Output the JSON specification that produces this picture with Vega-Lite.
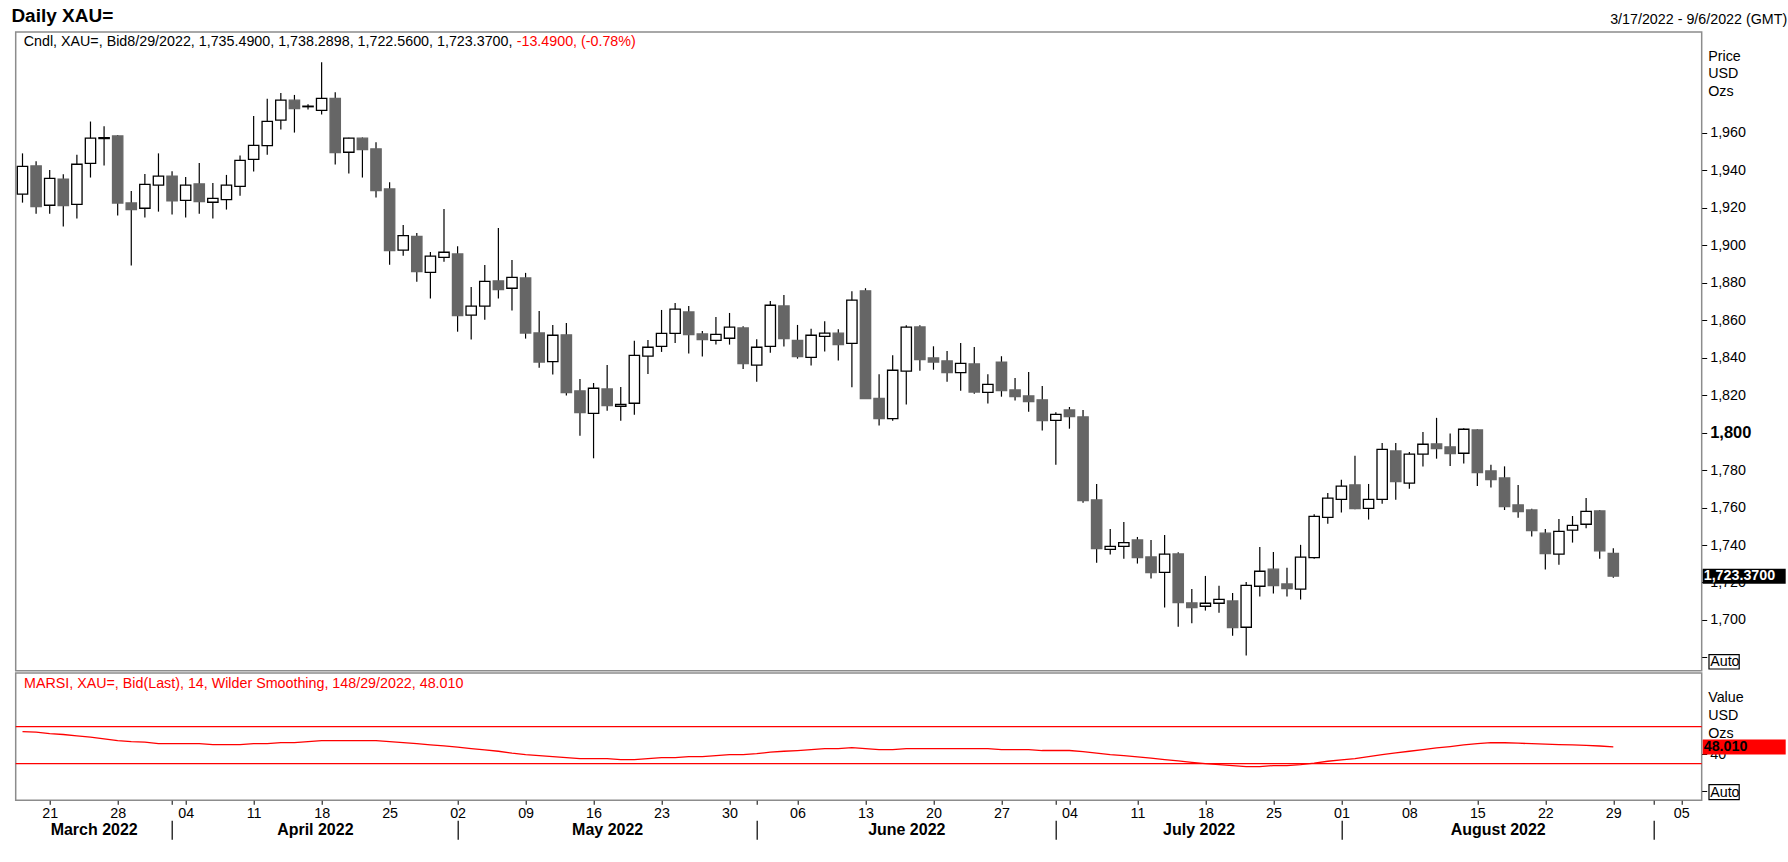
{
  "$schema": "https://vega.github.io/schema/vega-lite/v6.json",
  "background": "white",
  "padding": {"left": 10.7, "top": 6, "right": 0, "bottom": 0},
  "title": {"text": "Daily XAU=", "anchor": "start", "frame": "group", "fontSize": 19, "fontWeight": "bold", "color": "black", "dx": -4.3, "offset": -14},
  "spacing": 0,
  "config": {
    "font": "Liberation Sans",
    "view": {"stroke": "#8c8c8c", "strokeWidth": 1.5},
    "title": {"font": "Liberation Sans", "color": "black"},
    "text": {"font": "Liberation Sans"},
    "axis": {"labelFont": "Liberation Sans", "titleFont": "Liberation Sans", "labelColor": "black", "titleColor": "black", "tickColor": "black", "grid": false, "domain": false}
  },
  "datasets": {
    "candles": [
      {"d": "2022-03-17", "o": 1927.3, "h": 1949.1, "l": 1922.8, "c": 1942.2},
      {"d": "2022-03-18", "o": 1942.4, "h": 1944.9, "l": 1916.9, "c": 1920.7},
      {"d": "2022-03-21", "o": 1921.4, "h": 1940.2, "l": 1916.9, "c": 1935.8},
      {"d": "2022-03-22", "o": 1935.4, "h": 1937.9, "l": 1910.0, "c": 1921.2},
      {"d": "2022-03-23", "o": 1921.9, "h": 1948.3, "l": 1914.3, "c": 1943.3},
      {"d": "2022-03-24", "o": 1943.8, "h": 1966.1, "l": 1936.2, "c": 1957.2},
      {"d": "2022-03-25", "o": 1957.0, "h": 1963.6, "l": 1942.6, "c": 1957.5},
      {"d": "2022-03-28", "o": 1958.4, "h": 1958.9, "l": 1915.9, "c": 1922.6},
      {"d": "2022-03-29", "o": 1922.6, "h": 1929.0, "l": 1889.2, "c": 1919.1},
      {"d": "2022-03-30", "o": 1919.8, "h": 1938.1, "l": 1914.8, "c": 1932.6},
      {"d": "2022-03-31", "o": 1932.1, "h": 1949.1, "l": 1918.0, "c": 1937.0},
      {"d": "2022-04-01", "o": 1937.0, "h": 1939.5, "l": 1916.4, "c": 1923.7},
      {"d": "2022-04-04", "o": 1924.0, "h": 1936.5, "l": 1914.8, "c": 1932.1},
      {"d": "2022-04-05", "o": 1932.8, "h": 1944.0, "l": 1916.9, "c": 1923.3},
      {"d": "2022-04-06", "o": 1923.0, "h": 1933.3, "l": 1914.3, "c": 1925.1},
      {"d": "2022-04-07", "o": 1924.4, "h": 1937.6, "l": 1919.1, "c": 1932.1},
      {"d": "2022-04-08", "o": 1931.5, "h": 1947.9, "l": 1926.5, "c": 1945.4},
      {"d": "2022-04-11", "o": 1945.9, "h": 1969.1, "l": 1939.4, "c": 1953.4},
      {"d": "2022-04-12", "o": 1953.2, "h": 1978.2, "l": 1948.4, "c": 1966.2},
      {"d": "2022-04-13", "o": 1966.8, "h": 1981.4, "l": 1961.8, "c": 1977.5},
      {"d": "2022-04-14", "o": 1977.5, "h": 1980.3, "l": 1960.2, "c": 1973.0},
      {"d": "2022-04-15", "o": 1974.0, "h": 1975.3, "l": 1972.5, "c": 1974.3},
      {"d": "2022-04-18", "o": 1972.1, "h": 1997.7, "l": 1969.8, "c": 1978.5},
      {"d": "2022-04-19", "o": 1978.5, "h": 1981.7, "l": 1943.1, "c": 1949.5},
      {"d": "2022-04-20", "o": 1949.7, "h": 1957.5, "l": 1938.3, "c": 1957.2},
      {"d": "2022-04-21", "o": 1957.2, "h": 1957.6, "l": 1936.2, "c": 1951.1},
      {"d": "2022-04-22", "o": 1951.5, "h": 1955.0, "l": 1925.5, "c": 1929.2},
      {"d": "2022-04-25", "o": 1930.1, "h": 1933.7, "l": 1889.7, "c": 1897.2},
      {"d": "2022-04-26", "o": 1897.4, "h": 1910.9, "l": 1894.5, "c": 1905.2},
      {"d": "2022-04-27", "o": 1904.8, "h": 1906.6, "l": 1880.6, "c": 1886.0},
      {"d": "2022-04-28", "o": 1885.6, "h": 1896.5, "l": 1871.6, "c": 1894.2},
      {"d": "2022-04-29", "o": 1893.6, "h": 1919.4, "l": 1891.3, "c": 1896.3},
      {"d": "2022-05-02", "o": 1895.4, "h": 1899.5, "l": 1853.9, "c": 1862.5},
      {"d": "2022-05-03", "o": 1862.7, "h": 1877.8, "l": 1849.7, "c": 1867.5},
      {"d": "2022-05-04", "o": 1867.5, "h": 1889.5, "l": 1860.3, "c": 1880.8},
      {"d": "2022-05-05", "o": 1881.0, "h": 1909.3, "l": 1871.6, "c": 1876.4},
      {"d": "2022-05-06", "o": 1877.1, "h": 1892.2, "l": 1865.2, "c": 1882.9},
      {"d": "2022-05-09", "o": 1882.6, "h": 1885.3, "l": 1850.2, "c": 1853.2},
      {"d": "2022-05-10", "o": 1853.2, "h": 1865.0, "l": 1834.7, "c": 1837.7},
      {"d": "2022-05-11", "o": 1837.9, "h": 1857.5, "l": 1831.0, "c": 1852.0},
      {"d": "2022-05-12", "o": 1852.2, "h": 1858.6, "l": 1819.8, "c": 1821.4},
      {"d": "2022-05-13", "o": 1822.3, "h": 1828.7, "l": 1798.4, "c": 1810.7},
      {"d": "2022-05-16", "o": 1810.3, "h": 1826.5, "l": 1786.3, "c": 1823.7},
      {"d": "2022-05-17", "o": 1823.3, "h": 1836.1, "l": 1811.7, "c": 1814.4},
      {"d": "2022-05-18", "o": 1814.1, "h": 1824.4, "l": 1806.4, "c": 1815.1},
      {"d": "2022-05-19", "o": 1815.7, "h": 1849.0, "l": 1809.6, "c": 1841.3},
      {"d": "2022-05-20", "o": 1840.8, "h": 1849.5, "l": 1831.3, "c": 1845.6},
      {"d": "2022-05-23", "o": 1846.1, "h": 1865.5, "l": 1843.1, "c": 1853.0},
      {"d": "2022-05-24", "o": 1853.0, "h": 1869.2, "l": 1847.9, "c": 1865.9},
      {"d": "2022-05-25", "o": 1864.4, "h": 1867.6, "l": 1842.2, "c": 1852.3},
      {"d": "2022-05-26", "o": 1852.7, "h": 1854.3, "l": 1840.6, "c": 1849.7},
      {"d": "2022-05-27", "o": 1849.3, "h": 1861.8, "l": 1847.0, "c": 1852.5},
      {"d": "2022-05-30", "o": 1850.4, "h": 1863.9, "l": 1847.0, "c": 1856.3},
      {"d": "2022-05-31", "o": 1855.9, "h": 1856.8, "l": 1834.0, "c": 1836.9},
      {"d": "2022-06-01", "o": 1836.0, "h": 1849.9, "l": 1827.2, "c": 1845.6},
      {"d": "2022-06-02", "o": 1846.1, "h": 1870.3, "l": 1842.7, "c": 1868.0},
      {"d": "2022-06-03", "o": 1867.6, "h": 1873.5, "l": 1846.0, "c": 1850.2},
      {"d": "2022-06-06", "o": 1849.3, "h": 1857.5, "l": 1839.5, "c": 1840.6},
      {"d": "2022-06-07", "o": 1840.2, "h": 1855.4, "l": 1835.8, "c": 1852.0},
      {"d": "2022-06-08", "o": 1851.4, "h": 1859.5, "l": 1843.3, "c": 1853.1},
      {"d": "2022-06-09", "o": 1853.1, "h": 1855.2, "l": 1838.5, "c": 1847.0},
      {"d": "2022-06-10", "o": 1847.7, "h": 1875.5, "l": 1824.2, "c": 1870.7},
      {"d": "2022-06-13", "o": 1875.7, "h": 1877.1, "l": 1818.0, "c": 1818.2},
      {"d": "2022-06-14", "o": 1818.3, "h": 1831.2, "l": 1803.8, "c": 1807.5},
      {"d": "2022-06-15", "o": 1807.5, "h": 1841.3, "l": 1806.4, "c": 1833.3},
      {"d": "2022-06-16", "o": 1832.8, "h": 1857.3, "l": 1815.0, "c": 1856.3},
      {"d": "2022-06-17", "o": 1856.4, "h": 1857.3, "l": 1833.1, "c": 1839.0},
      {"d": "2022-06-20", "o": 1839.9, "h": 1846.1, "l": 1833.6, "c": 1837.7},
      {"d": "2022-06-21", "o": 1838.3, "h": 1843.6, "l": 1827.2, "c": 1832.0},
      {"d": "2022-06-22", "o": 1832.0, "h": 1847.9, "l": 1822.4, "c": 1837.0},
      {"d": "2022-06-23", "o": 1836.7, "h": 1845.7, "l": 1820.8, "c": 1821.7},
      {"d": "2022-06-24", "o": 1821.5, "h": 1831.2, "l": 1815.5, "c": 1825.8},
      {"d": "2022-06-27", "o": 1837.7, "h": 1840.8, "l": 1819.2, "c": 1822.4},
      {"d": "2022-06-28", "o": 1822.8, "h": 1829.2, "l": 1817.1, "c": 1819.2},
      {"d": "2022-06-29", "o": 1819.6, "h": 1832.4, "l": 1811.2, "c": 1816.6},
      {"d": "2022-06-30", "o": 1817.5, "h": 1824.9, "l": 1801.1, "c": 1806.4},
      {"d": "2022-07-01", "o": 1806.6, "h": 1810.9, "l": 1782.9, "c": 1809.8},
      {"d": "2022-07-04", "o": 1812.1, "h": 1813.7, "l": 1802.1, "c": 1808.6},
      {"d": "2022-07-05", "o": 1808.4, "h": 1812.1, "l": 1762.6, "c": 1763.7},
      {"d": "2022-07-06", "o": 1764.1, "h": 1772.6, "l": 1730.6, "c": 1738.1},
      {"d": "2022-07-07", "o": 1737.7, "h": 1748.6, "l": 1734.9, "c": 1739.3},
      {"d": "2022-07-08", "o": 1739.3, "h": 1752.3, "l": 1732.7, "c": 1741.3},
      {"d": "2022-07-11", "o": 1742.7, "h": 1744.3, "l": 1730.1, "c": 1733.3},
      {"d": "2022-07-12", "o": 1733.6, "h": 1742.7, "l": 1722.1, "c": 1725.3},
      {"d": "2022-07-13", "o": 1725.4, "h": 1745.4, "l": 1706.6, "c": 1735.1},
      {"d": "2022-07-14", "o": 1735.2, "h": 1736.1, "l": 1696.4, "c": 1709.3},
      {"d": "2022-07-15", "o": 1709.1, "h": 1716.5, "l": 1698.2, "c": 1706.6},
      {"d": "2022-07-18", "o": 1707.3, "h": 1723.5, "l": 1705.0, "c": 1708.9},
      {"d": "2022-07-19", "o": 1708.9, "h": 1718.2, "l": 1703.9, "c": 1711.0},
      {"d": "2022-07-20", "o": 1710.1, "h": 1714.4, "l": 1691.6, "c": 1695.9},
      {"d": "2022-07-21", "o": 1696.1, "h": 1720.3, "l": 1681.0, "c": 1718.5},
      {"d": "2022-07-22", "o": 1718.0, "h": 1739.0, "l": 1712.5, "c": 1726.0},
      {"d": "2022-07-25", "o": 1727.1, "h": 1736.3, "l": 1714.1, "c": 1718.4},
      {"d": "2022-07-26", "o": 1719.2, "h": 1727.8, "l": 1712.5, "c": 1716.7},
      {"d": "2022-07-27", "o": 1716.4, "h": 1740.1, "l": 1710.9, "c": 1733.5},
      {"d": "2022-07-28", "o": 1733.3, "h": 1756.4, "l": 1732.7, "c": 1755.3},
      {"d": "2022-07-29", "o": 1754.8, "h": 1767.8, "l": 1751.4, "c": 1765.0},
      {"d": "2022-08-01", "o": 1764.4, "h": 1774.8, "l": 1757.3, "c": 1771.4},
      {"d": "2022-08-02", "o": 1772.1, "h": 1787.6, "l": 1759.1, "c": 1759.4},
      {"d": "2022-08-03", "o": 1759.6, "h": 1772.6, "l": 1753.6, "c": 1764.4},
      {"d": "2022-08-04", "o": 1764.4, "h": 1794.5, "l": 1762.1, "c": 1791.1},
      {"d": "2022-08-05", "o": 1790.2, "h": 1794.5, "l": 1764.2, "c": 1773.9},
      {"d": "2022-08-08", "o": 1773.0, "h": 1789.7, "l": 1770.1, "c": 1788.5},
      {"d": "2022-08-09", "o": 1788.5, "h": 1800.4, "l": 1781.9, "c": 1793.8},
      {"d": "2022-08-10", "o": 1794.0, "h": 1807.9, "l": 1786.1, "c": 1791.5},
      {"d": "2022-08-11", "o": 1792.4, "h": 1799.5, "l": 1782.2, "c": 1788.8},
      {"d": "2022-08-12", "o": 1789.0, "h": 1802.3, "l": 1783.5, "c": 1801.8},
      {"d": "2022-08-15", "o": 1801.4, "h": 1801.8, "l": 1771.5, "c": 1778.7},
      {"d": "2022-08-16", "o": 1779.6, "h": 1782.8, "l": 1770.7, "c": 1774.9},
      {"d": "2022-08-17", "o": 1775.8, "h": 1782.0, "l": 1758.7, "c": 1760.5},
      {"d": "2022-08-18", "o": 1761.4, "h": 1772.1, "l": 1754.6, "c": 1757.8},
      {"d": "2022-08-19", "o": 1758.7, "h": 1759.3, "l": 1744.5, "c": 1747.7},
      {"d": "2022-08-22", "o": 1746.3, "h": 1748.6, "l": 1726.9, "c": 1735.4},
      {"d": "2022-08-23", "o": 1735.1, "h": 1753.9, "l": 1729.5, "c": 1747.3},
      {"d": "2022-08-24", "o": 1747.9, "h": 1755.5, "l": 1741.3, "c": 1750.5},
      {"d": "2022-08-25", "o": 1751.1, "h": 1765.1, "l": 1748.9, "c": 1758.0},
      {"d": "2022-08-26", "o": 1758.2, "h": 1758.7, "l": 1732.7, "c": 1736.9},
      {"d": "2022-08-29", "o": 1735.49, "h": 1738.2898, "l": 1722.56, "c": 1723.37}
    ],
    "rsi": [
      {"d": "2022-03-17", "r": 64.6}, {"d": "2022-03-18", "r": 63.9}, {"d": "2022-03-21", "r": 62.4}, {"d": "2022-03-22", "r": 61.4},
      {"d": "2022-03-23", "r": 59.9}, {"d": "2022-03-24", "r": 58.5}, {"d": "2022-03-25", "r": 56.7}, {"d": "2022-03-28", "r": 54.9},
      {"d": "2022-03-29", "r": 53.8}, {"d": "2022-03-30", "r": 53.1}, {"d": "2022-03-31", "r": 51.6}, {"d": "2022-04-01", "r": 51.6},
      {"d": "2022-04-04", "r": 51.6}, {"d": "2022-04-05", "r": 51.6}, {"d": "2022-04-06", "r": 50.5}, {"d": "2022-04-07", "r": 50.5},
      {"d": "2022-04-08", "r": 50.5}, {"d": "2022-04-11", "r": 51.6}, {"d": "2022-04-12", "r": 51.6}, {"d": "2022-04-13", "r": 52.7},
      {"d": "2022-04-14", "r": 52.7}, {"d": "2022-04-15", "r": 53.8}, {"d": "2022-04-18", "r": 54.9}, {"d": "2022-04-19", "r": 54.9},
      {"d": "2022-04-20", "r": 54.9}, {"d": "2022-04-21", "r": 54.9}, {"d": "2022-04-22", "r": 54.9}, {"d": "2022-04-25", "r": 53.8},
      {"d": "2022-04-26", "r": 52.7}, {"d": "2022-04-27", "r": 51.6}, {"d": "2022-04-28", "r": 50.2}, {"d": "2022-04-29", "r": 49.1},
      {"d": "2022-05-02", "r": 47.7}, {"d": "2022-05-03", "r": 46.2}, {"d": "2022-05-04", "r": 44.8}, {"d": "2022-05-05", "r": 43.3},
      {"d": "2022-05-06", "r": 41.2}, {"d": "2022-05-09", "r": 39.7}, {"d": "2022-05-10", "r": 38.6}, {"d": "2022-05-11", "r": 37.6},
      {"d": "2022-05-12", "r": 36.5}, {"d": "2022-05-13", "r": 35.4}, {"d": "2022-05-16", "r": 35.4}, {"d": "2022-05-17", "r": 35.4},
      {"d": "2022-05-18", "r": 34.3}, {"d": "2022-05-19", "r": 34.3}, {"d": "2022-05-20", "r": 35.4}, {"d": "2022-05-23", "r": 36.5},
      {"d": "2022-05-24", "r": 36.5}, {"d": "2022-05-25", "r": 37.6}, {"d": "2022-05-26", "r": 37.6}, {"d": "2022-05-27", "r": 38.6},
      {"d": "2022-05-30", "r": 39.7}, {"d": "2022-05-31", "r": 39.7}, {"d": "2022-06-01", "r": 40.8}, {"d": "2022-06-02", "r": 42.3},
      {"d": "2022-06-03", "r": 43.3}, {"d": "2022-06-06", "r": 44.1}, {"d": "2022-06-07", "r": 45.1}, {"d": "2022-06-08", "r": 46.2},
      {"d": "2022-06-09", "r": 46.2}, {"d": "2022-06-10", "r": 47.3}, {"d": "2022-06-13", "r": 46.2}, {"d": "2022-06-14", "r": 45.1},
      {"d": "2022-06-15", "r": 45.1}, {"d": "2022-06-16", "r": 46.2}, {"d": "2022-06-17", "r": 46.2}, {"d": "2022-06-20", "r": 46.2},
      {"d": "2022-06-21", "r": 46.2}, {"d": "2022-06-22", "r": 46.2}, {"d": "2022-06-23", "r": 46.2}, {"d": "2022-06-24", "r": 46.2},
      {"d": "2022-06-27", "r": 45.1}, {"d": "2022-06-28", "r": 45.1}, {"d": "2022-06-29", "r": 45.1}, {"d": "2022-06-30", "r": 44.1},
      {"d": "2022-07-01", "r": 44.1}, {"d": "2022-07-04", "r": 44.1}, {"d": "2022-07-05", "r": 43.0}, {"d": "2022-07-06", "r": 41.2},
      {"d": "2022-07-07", "r": 39.7}, {"d": "2022-07-08", "r": 38.6}, {"d": "2022-07-11", "r": 37.2}, {"d": "2022-07-12", "r": 35.8},
      {"d": "2022-07-13", "r": 34.3}, {"d": "2022-07-14", "r": 32.9}, {"d": "2022-07-15", "r": 31.4}, {"d": "2022-07-18", "r": 30.0},
      {"d": "2022-07-19", "r": 28.9}, {"d": "2022-07-20", "r": 27.8}, {"d": "2022-07-21", "r": 26.8}, {"d": "2022-07-22", "r": 26.8},
      {"d": "2022-07-25", "r": 27.8}, {"d": "2022-07-26", "r": 27.8}, {"d": "2022-07-27", "r": 28.9}, {"d": "2022-07-28", "r": 30.4},
      {"d": "2022-07-29", "r": 32.5}, {"d": "2022-08-01", "r": 34.0}, {"d": "2022-08-02", "r": 35.4}, {"d": "2022-08-03", "r": 37.6},
      {"d": "2022-08-04", "r": 39.7}, {"d": "2022-08-05", "r": 41.5}, {"d": "2022-08-08", "r": 43.3}, {"d": "2022-08-09", "r": 45.1},
      {"d": "2022-08-10", "r": 46.9}, {"d": "2022-08-11", "r": 48.4}, {"d": "2022-08-12", "r": 50.2}, {"d": "2022-08-15", "r": 51.6},
      {"d": "2022-08-16", "r": 52.7}, {"d": "2022-08-17", "r": 52.5}, {"d": "2022-08-18", "r": 52.0}, {"d": "2022-08-19", "r": 51.5},
      {"d": "2022-08-22", "r": 51.0}, {"d": "2022-08-23", "r": 50.5}, {"d": "2022-08-24", "r": 50.2}, {"d": "2022-08-25", "r": 49.6},
      {"d": "2022-08-26", "r": 49.0}, {"d": "2022-08-29", "r": 48.01}
    ],
    "levels": [{"v": 70}, {"v": 30}]
  },
  "vconcat": [
    {
      "width": 1686,
      "height": 638.7,
      "title": {"text": "3/17/2022 - 9/6/2022 (GMT)", "anchor": "end", "frame": "bounds", "fontSize": 14.3, "fontWeight": "normal", "color": "black", "offset": 5, "dx": -6},
      "encoding": {
        "x": {
          "field": "d", "type": "ordinal", "axis": null,
          "scale": {"paddingInner": 0.24, "paddingOuter": 0.12, "domain": ["2022-03-17","2022-03-18","2022-03-21","2022-03-22","2022-03-23","2022-03-24","2022-03-25","2022-03-28","2022-03-29","2022-03-30","2022-03-31","2022-04-01","2022-04-04","2022-04-05","2022-04-06","2022-04-07","2022-04-08","2022-04-11","2022-04-12","2022-04-13","2022-04-14","2022-04-15","2022-04-18","2022-04-19","2022-04-20","2022-04-21","2022-04-22","2022-04-25","2022-04-26","2022-04-27","2022-04-28","2022-04-29","2022-05-02","2022-05-03","2022-05-04","2022-05-05","2022-05-06","2022-05-09","2022-05-10","2022-05-11","2022-05-12","2022-05-13","2022-05-16","2022-05-17","2022-05-18","2022-05-19","2022-05-20","2022-05-23","2022-05-24","2022-05-25","2022-05-26","2022-05-27","2022-05-30","2022-05-31","2022-06-01","2022-06-02","2022-06-03","2022-06-06","2022-06-07","2022-06-08","2022-06-09","2022-06-10","2022-06-13","2022-06-14","2022-06-15","2022-06-16","2022-06-17","2022-06-20","2022-06-21","2022-06-22","2022-06-23","2022-06-24","2022-06-27","2022-06-28","2022-06-29","2022-06-30","2022-07-01","2022-07-04","2022-07-05","2022-07-06","2022-07-07","2022-07-08","2022-07-11","2022-07-12","2022-07-13","2022-07-14","2022-07-15","2022-07-18","2022-07-19","2022-07-20","2022-07-21","2022-07-22","2022-07-25","2022-07-26","2022-07-27","2022-07-28","2022-07-29","2022-08-01","2022-08-02","2022-08-03","2022-08-04","2022-08-05","2022-08-08","2022-08-09","2022-08-10","2022-08-11","2022-08-12","2022-08-15","2022-08-16","2022-08-17","2022-08-18","2022-08-19","2022-08-22","2022-08-23","2022-08-24","2022-08-25","2022-08-26","2022-08-29","2022-08-30","2022-08-31","2022-09-01","2022-09-02","2022-09-05","2022-09-06"]}
        }
      },
      "layer": [
        {
          "data": {"name": "candles"},
          "mark": {"type": "rule", "color": "black", "strokeWidth": 1.2},
          "encoding": {
            "y": {
              "field": "l", "type": "quantitative",
              "scale": {"domain": [1672.9, 2013.9], "nice": false, "zero": false},
              "axis": {
                "orient": "right",
                "values": [1680, 1700, 1720, 1740, 1760, 1780, 1800, 1820, 1840, 1860, 1880, 1900, 1920, 1940, 1960],
                "labelExpr": "datum.value == 1680 ? 'Auto' : format(datum.value, ',')",
                "tickSize": 5, "tickWidth": 1, "labelPadding": 3,
                "labelOffset": {"condition": {"test": "datum.value == 1680", "value": 4}, "value": 0},
                "labelFontSize": {"condition": {"test": "datum.value == 1800", "value": 16.5}, "value": 14.3},
                "labelFontWeight": {"condition": {"test": "datum.value == 1800", "value": "bold"}, "value": "normal"},
                "labelOverlap": false,
                "title": ["Price", "USD", "Ozs"],
                "titleAngle": 0, "titleAlign": "left", "titleBaseline": "top",
                "titleX": 6, "titleY": 17, "titleFontSize": 14.3, "titleFontWeight": "normal", "titleLineHeight": 18
              }
            },
            "y2": {"field": "h"}
          }
        },
        {
          "data": {"name": "candles"},
          "mark": {"type": "bar", "strokeWidth": 1.3},
          "encoding": {
            "y": {"field": "o", "type": "quantitative", "scale": {"domain": [1672.9, 2013.9], "nice": false, "zero": false}},
            "y2": {"field": "c"},
            "fill": {"condition": {"test": "datum.c >= datum.o", "value": "white"}, "value": "#666666"},
            "stroke": {"condition": {"test": "datum.c >= datum.o", "value": "black"}, "value": "#666666"}
          }
        },
        {
          "data": {"values": [{}]},
          "mark": {"type": "text", "text": "Cndl, XAU=, Bid8/29/2022, 1,735.4900, 1,738.2898, 1,722.5600, 1,723.3700,", "align": "left", "baseline": "middle", "fontSize": 14.3, "color": "black", "dx": 1.2},
          "encoding": {"x": {"datum": "2022-03-17", "type": "ordinal"}, "y": {"datum": 2008.4, "type": "quantitative"}}
        },
        {
          "data": {"values": [{}]},
          "mark": {"type": "text", "text": "-13.4900, (-0.78%)", "align": "left", "baseline": "middle", "fontSize": 14.3, "color": "#ff0000", "dx": 494.2},
          "encoding": {"x": {"datum": "2022-03-17", "type": "ordinal"}, "y": {"datum": 2008.4, "type": "quantitative"}}
        },
        {
          "data": {"values": [{}]},
          "mark": {"type": "rect", "fill": null, "stroke": "black", "strokeWidth": 1.2},
          "encoding": {
            "x": {"value": 1693.3}, "x2": {"value": 1723.5},
            "y": {"datum": 1681.5, "type": "quantitative"}, "y2": {"datum": 1673.8}
          }
        },
        {
          "data": {"name": "candles"},
          "transform": [{"filter": "datum.d == '2022-08-29'"}],
          "mark": {"type": "rule", "color": "black", "strokeWidth": 15, "strokeCap": "butt"},
          "encoding": {
            "x": {"value": 1687}, "x2": {"value": 1770},
            "y": {"field": "c", "type": "quantitative", "scale": {"domain": [1672.9, 2013.9], "nice": false, "zero": false}}
          }
        },
        {
          "data": {"name": "candles"},
          "transform": [{"filter": "datum.d == '2022-08-29'"}],
          "mark": {"type": "text", "align": "left", "baseline": "middle", "fontSize": 14.3, "fontWeight": "bold", "color": "white"},
          "encoding": {
            "x": {"value": 1688},
            "y": {"field": "c", "type": "quantitative", "scale": {"domain": [1672.9, 2013.9], "nice": false, "zero": false}},
            "text": {"field": "c", "type": "quantitative", "format": ",.4f"}
          }
        }
      ]
    },
    {
      "width": 1686,
      "height": 127.3,
      "resolve": {"axis": {"x": "independent"}},
      "layer": [
        {
          "data": {"name": "levels"},
          "mark": {"type": "rule", "color": "#ff0000", "strokeWidth": 1.3},
          "encoding": {
            "y": {
              "field": "v", "type": "quantitative",
              "scale": {"domain": [-9.7, 127.9], "nice": false, "zero": false},
              "axis": {
                "orient": "right", "values": [0, 40],
                "labelExpr": "datum.value == 0 ? 'Auto' : datum.label",
                "tickSize": 5, "tickWidth": 1, "labelPadding": 3, "labelFontSize": 14.3, "labelOverlap": false,
                "labelOffset": {"condition": {"test": "datum.value == 0", "value": 1}, "value": 0},
                "title": ["Value", "USD", "Ozs"],
                "titleAngle": 0, "titleAlign": "left", "titleBaseline": "top",
                "titleX": 6, "titleY": 17.5, "titleFontSize": 14.3, "titleFontWeight": "normal", "titleLineHeight": 18
              }
            }
          }
        },
        {
          "data": {"name": "rsi"},
          "mark": {"type": "line", "color": "#ff0000", "strokeWidth": 1.3},
          "encoding": {
            "x": {
              "field": "d", "type": "ordinal",
              "scale": {"paddingInner": 0.24, "paddingOuter": 0.12, "domain": ["2022-03-17","2022-03-18","2022-03-21","2022-03-22","2022-03-23","2022-03-24","2022-03-25","2022-03-28","2022-03-29","2022-03-30","2022-03-31","2022-04-01","2022-04-04","2022-04-05","2022-04-06","2022-04-07","2022-04-08","2022-04-11","2022-04-12","2022-04-13","2022-04-14","2022-04-15","2022-04-18","2022-04-19","2022-04-20","2022-04-21","2022-04-22","2022-04-25","2022-04-26","2022-04-27","2022-04-28","2022-04-29","2022-05-02","2022-05-03","2022-05-04","2022-05-05","2022-05-06","2022-05-09","2022-05-10","2022-05-11","2022-05-12","2022-05-13","2022-05-16","2022-05-17","2022-05-18","2022-05-19","2022-05-20","2022-05-23","2022-05-24","2022-05-25","2022-05-26","2022-05-27","2022-05-30","2022-05-31","2022-06-01","2022-06-02","2022-06-03","2022-06-06","2022-06-07","2022-06-08","2022-06-09","2022-06-10","2022-06-13","2022-06-14","2022-06-15","2022-06-16","2022-06-17","2022-06-20","2022-06-21","2022-06-22","2022-06-23","2022-06-24","2022-06-27","2022-06-28","2022-06-29","2022-06-30","2022-07-01","2022-07-04","2022-07-05","2022-07-06","2022-07-07","2022-07-08","2022-07-11","2022-07-12","2022-07-13","2022-07-14","2022-07-15","2022-07-18","2022-07-19","2022-07-20","2022-07-21","2022-07-22","2022-07-25","2022-07-26","2022-07-27","2022-07-28","2022-07-29","2022-08-01","2022-08-02","2022-08-03","2022-08-04","2022-08-05","2022-08-08","2022-08-09","2022-08-10","2022-08-11","2022-08-12","2022-08-15","2022-08-16","2022-08-17","2022-08-18","2022-08-19","2022-08-22","2022-08-23","2022-08-24","2022-08-25","2022-08-26","2022-08-29","2022-08-30","2022-08-31","2022-09-01","2022-09-02","2022-09-05","2022-09-06"]},
              "axis": {
                "orient": "bottom",
                "values": ["2022-03-21","2022-03-28","2022-04-01","2022-04-04","2022-04-11","2022-04-18","2022-04-25","2022-05-02","2022-05-09","2022-05-16","2022-05-23","2022-05-30","2022-06-01","2022-06-06","2022-06-13","2022-06-20","2022-06-27","2022-07-01","2022-07-04","2022-07-11","2022-07-18","2022-07-25","2022-08-01","2022-08-08","2022-08-15","2022-08-22","2022-08-29","2022-09-01","2022-09-05"],
                "labelExpr": "indexof(['2022-04-01','2022-06-01','2022-07-01','2022-09-01'], datum.value) >= 0 ? '' : substring(datum.value, 8, 10)",
                "tickSize": 4, "tickWidth": 1, "labelPadding": 2, "labelFontSize": 14.3, "labelAngle": 0,
                "labelOverlap": false, "labelFlush": false, "title": null
              }
            },
            "y": {"field": "r", "type": "quantitative", "scale": {"domain": [-9.7, 127.9], "nice": false, "zero": false}}
          }
        },
        {
          "data": {"values": [{}]},
          "mark": {"type": "text", "text": "MARSI, XAU=, Bid(Last),  14, Wilder Smoothing, 148/29/2022, 48.010", "align": "left", "baseline": "middle", "fontSize": 14.3, "color": "#ff0000", "dx": 1.5},
          "encoding": {
            "x": {
              "datum": "2022-03-17", "type": "ordinal",
              "axis": {
                "orient": "bottom", "offset": 20,
                "values": ["2022-03-24","2022-04-01","2022-04-15","2022-05-02","2022-05-17","2022-06-01","2022-06-16","2022-07-01","2022-07-15","2022-08-01","2022-08-16","2022-09-01"],
                "labelExpr": "datum.value == '2022-03-24' ? 'March 2022' : datum.value == '2022-04-15' ? 'April 2022' : datum.value == '2022-05-17' ? 'May 2022' : datum.value == '2022-06-16' ? 'June 2022' : datum.value == '2022-07-15' ? 'July 2022' : datum.value == '2022-08-16' ? 'August 2022' : ''",
                "tickSize": 19, "tickWidth": 1.2,
                "tickOpacity": {"condition": {"test": "indexof(['2022-04-01','2022-05-02','2022-06-01','2022-07-01','2022-08-01','2022-09-01'], datum.value) >= 0", "value": 1}, "value": 0},
                "labelOffset": {"condition": [{"test": "datum.value == '2022-03-24'", "value": 3.2}, {"test": "indexof(['2022-04-15','2022-07-15','2022-08-16'], datum.value) >= 0", "value": 6.8}], "value": 0},
                "labelFontSize": 16, "labelFontWeight": "bold", "labelBaseline": "middle", "labelPadding": -9.5,
                "labelAngle": 0, "labelOverlap": false, "labelFlush": false, "title": null
              }
            },
            "y": {"datum": 116.1, "type": "quantitative"}
          }
        },
        {
          "data": {"values": [{}]},
          "mark": {"type": "rect", "fill": null, "stroke": "black", "strokeWidth": 1.2},
          "encoding": {
            "x": {"value": 1693.3}, "x2": {"value": 1723.5},
            "y": {"datum": 7.3, "type": "quantitative"}, "y2": {"datum": -8.9}
          }
        },
        {
          "data": {"name": "rsi"},
          "transform": [{"filter": "datum.d == '2022-08-29'"}],
          "mark": {"type": "rule", "color": "#ff0000", "strokeWidth": 15, "strokeCap": "butt"},
          "encoding": {
            "x": {"value": 1687}, "x2": {"value": 1770},
            "y": {"field": "r", "type": "quantitative", "scale": {"domain": [-9.7, 127.9], "nice": false, "zero": false}}
          }
        },
        {
          "data": {"name": "rsi"},
          "transform": [{"filter": "datum.d == '2022-08-29'"}],
          "mark": {"type": "text", "align": "left", "baseline": "middle", "fontSize": 14.3, "fontWeight": "bold", "color": "black"},
          "encoding": {
            "x": {"value": 1688},
            "y": {"field": "r", "type": "quantitative", "scale": {"domain": [-9.7, 127.9], "nice": false, "zero": false}},
            "text": {"field": "r", "type": "quantitative", "format": ".3f"}
          }
        }
      ]
    }
  ]
}
